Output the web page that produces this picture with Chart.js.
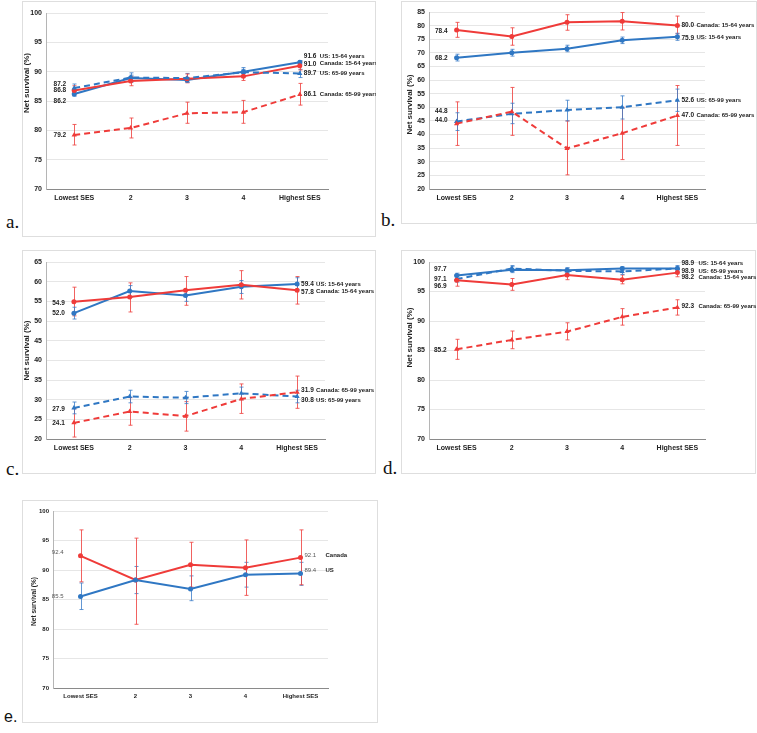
<!DOCTYPE html>
<html>
<head>
<meta charset="utf-8">
<script src="https://cdn.jsdelivr.net/npm/chart.js@4.4.1/dist/chart.umd.min.js"></script>
<style>
body { margin: 0; background: #fff; width: 757px; height: 733px; position: relative; overflow: hidden; }
.box { position: absolute; border: 1px solid #dedede; box-sizing: border-box; }
.tag { position: absolute; font-family: "Liberation Serif", serif; font-size: 19px; color: #111; line-height: 1; }
canvas { position: absolute; }
</style>
</head>
<body>
<div class="tag" style="left:6px;top:212px">a.</div>
<div class="tag" style="left:381px;top:210px">b.</div>
<div class="tag" style="left:6px;top:459px">c.</div>
<div class="tag" style="left:383px;top:458px">d.</div>
<div class="tag" style="left:4px;top:709px;font-family:'Liberation Sans',sans-serif;font-size:16px">e.</div>

<script>
// shared categories
const categories = ['Lowest SES', '2', '3', '4', 'Highest SES'];

// a.
const aCanYoung = [86.8, 88.4, 88.8, 89.2, 91.0];
const aCanYoungLo = [86.0, 87.6, 88.1, 88.5, 90.3];
const aCanYoungHi = [87.6, 89.2, 89.6, 89.9, 91.7];
const aUsYoung = [86.2, 88.9, 88.6, 90.0, 91.6];
const aUsYoungLo = [85.8, 88.4, 88.2, 89.6, 91.3];
const aUsYoungHi = [86.6, 89.4, 89.0, 90.4, 91.9];
const aUsOld = [87.2, 89.0, 88.9, 89.9, 89.7];
const aUsOldLo = [86.6, 88.2, 88.2, 89.1, 89.0];
const aUsOldHi = [87.9, 89.8, 89.7, 90.7, 90.4];
const aCanOld = [79.2, 80.4, 82.9, 83.1, 86.1];
const aCanOldLo = [77.5, 78.7, 81.2, 81.2, 84.3];
const aCanOldHi = [81.0, 82.1, 84.8, 85.1, 88.0];

// b.
const bCanYoung = [78.4, 76.0, 81.2, 81.6, 80.0];
const bCanYoungLo = [75.7, 72.8, 78.3, 78.4, 77.0];
const bCanYoungHi = [81.2, 79.2, 84.0, 84.8, 83.5];
const bUsYoung = [68.2, 70.0, 71.5, 74.6, 75.9];
const bUsYoungLo = [67.0, 68.8, 70.4, 73.4, 74.6];
const bUsYoungHi = [69.5, 71.3, 72.8, 75.8, 77.2];
const bUsOld = [44.8, 47.6, 49.0, 50.0, 52.6];
const bUsOldLo = [41.5, 44.0, 45.0, 45.7, 48.5];
const bUsOldHi = [48.0, 51.5, 52.6, 54.2, 56.7];
const bCanOld = [44.0, 48.4, 34.9, 40.5, 47.0];
const bCanOldLo = [36.0, 39.7, 25.2, 30.8, 36.0];
const bCanOldHi = [52.0, 57.3, 45.0, 50.0, 58.0];

// c.
const cUsYoung = [52.0, 57.6, 56.5, 58.7, 59.4];
const cUsYoungLo = [50.5, 56.0, 55.0, 57.0, 58.0];
const cUsYoungHi = [53.5, 59.0, 58.0, 60.3, 61.0];
const cCanYoung = [54.9, 56.1, 57.8, 59.2, 57.8];
const cCanYoungLo = [51.3, 52.3, 54.0, 55.6, 54.3];
const cCanYoungHi = [58.6, 59.7, 61.3, 62.8, 61.3];
const cUsOld = [27.9, 30.8, 30.5, 31.6, 30.8];
const cUsOldLo = [26.4, 29.2, 29.0, 30.0, 29.2];
const cUsOldHi = [29.4, 32.4, 32.1, 33.2, 32.4];
const cCanOld = [24.1, 27.0, 25.8, 30.2, 31.9];
const cCanOldLo = [20.5, 23.5, 22.0, 26.5, 27.8];
const cCanOldHi = [27.7, 30.5, 29.5, 34.0, 36.0];

// d.
const dUsYoung = [97.7, 98.7, 98.6, 98.9, 98.9];
const dUsYoungLo = [97.3, 98.2, 98.2, 98.6, 98.6];
const dUsYoungHi = [98.1, 99.2, 99.0, 99.2, 99.2];
const dUsOld = [97.1, 98.9, 98.5, 98.4, 98.9];
const dUsOldLo = [96.6, 98.4, 98.0, 97.9, 98.4];
const dUsOldHi = [97.6, 99.4, 99.0, 98.9, 99.4];
const dCanYoung = [96.9, 96.2, 97.8, 97.0, 98.2];
const dCanYoungLo = [95.9, 95.2, 97.0, 96.3, 97.5];
const dCanYoungHi = [97.8, 97.2, 98.6, 97.8, 98.9];
const dCanOld = [85.2, 86.8, 88.2, 90.7, 92.3];
const dCanOldLo = [83.5, 85.3, 86.8, 89.3, 91.0];
const dCanOldHi = [86.9, 88.3, 89.7, 92.1, 93.6];

// e.
const eCan = [92.4, 88.3, 90.9, 90.4, 92.1];
const eCanLo = [88.0, 80.8, 87.1, 85.7, 87.5];
const eCanHi = [96.8, 95.4, 94.7, 95.1, 96.8];
const eUs = [85.5, 88.3, 86.8, 89.2, 89.4];
const eUsLo = [83.3, 86.0, 84.8, 87.1, 87.4];
const eUsHi = [87.8, 90.6, 89.0, 91.3, 91.3];

const RED = '#ef3b39';
const BLUE = '#2f77c3';
const RED_BAR = 'rgba(239,70,68,0.85)';
const BLUE_BAR = 'rgba(60,125,200,0.8)';

function series(data, lo, hi, color, dashed, name, dyL, dyR) {
    return {
        data: data,
        errLo: lo,
        errHi: hi,
        name: name,
        dyL: dyL,
        dyR: dyR,
        borderColor: color,
        backgroundColor: color,
        barColor: color === RED ? RED_BAR : BLUE_BAR,
        borderWidth: 2,
        borderDash: dashed ? [6, 4] : [],
        pointStyle: dashed ? 'triangle' : 'circle',
        pointRadius: dashed ? 3 : 2.5,
        pointBorderWidth: 0,
        tension: 0,
        fill: false
    };
}

const panels = [
    { box: [22, 1, 354, 236], plot: [46, 13, 328, 189], min: 70, max: 100,
      leftDx: 8, nameDx: 20, titleDy: -18, small: false,
      datasets: [
        series(aCanOld, aCanOldLo, aCanOldHi, RED, true, 'Canada: 65-99 years', 0, 0),
        series(aUsOld, aUsOldLo, aUsOldHi, BLUE, true, 'US: 65-99 years', -4, 0),
        series(aCanYoung, aCanYoungLo, aCanYoungHi, RED, false, 'Canada: 15-64 years', 0, -2),
        series(aUsYoung, aUsYoungLo, aUsYoungHi, BLUE, false, 'US: 15-64 years', 7.5, -6)
      ] },
    { box: [401, 1, 356, 223], plot: [429, 12, 705, 189], min: 20, max: 85,
      leftDx: 9, nameDx: 19, titleDy: 4, small: false,
      datasets: [
        series(bCanOld, bCanOldLo, bCanOldHi, RED, true, 'Canada: 65-99 years', -3.5, 0),
        series(bUsOld, bUsOldLo, bUsOldHi, BLUE, true, 'US: 65-99 years', -10.5, 0),
        series(bCanYoung, bCanYoungLo, bCanYoungHi, RED, false, 'Canada: 15-64 years', 1.5, 0),
        series(bUsYoung, bUsYoungLo, bUsYoungHi, BLUE, false, 'US: 15-64 years', 0, 1)
      ] },
    { box: [22, 250, 354, 224], plot: [46, 262, 325, 439], min: 20, max: 65,
      leftDx: 9, nameDx: 19, titleDy: 0, small: false,
      datasets: [
        series(cCanOld, cCanOldLo, cCanOldHi, RED, true, 'Canada: 65-99 years', 0, -1.5),
        series(cUsOld, cUsOldLo, cUsOldHi, BLUE, true, 'US: 65-99 years', 1, 3.5),
        series(cCanYoung, cCanYoungLo, cCanYoungHi, RED, false, 'Canada: 15-64 years', 1, 1.5),
        series(cUsYoung, cUsYoungLo, cUsYoungHi, BLUE, false, 'US: 15-64 years', 0, 0)
      ] },
    { box: [401, 250, 355, 224], plot: [429, 262, 705, 439], min: 70, max: 100,
      leftDx: 10, nameDx: 21, titleDy: -13, small: false,
      datasets: [
        series(dCanOld, dCanOldLo, dCanOldHi, RED, true, 'Canada: 65-99 years', 1, -1.5),
        series(dCanYoung, dCanYoungLo, dCanYoungHi, RED, false, 'Canada: 15-64 years', 6.4, 5),
        series(dUsOld, dUsOldLo, dUsOldHi, BLUE, true, 'US: 65-99 years', 0, 2.5),
        series(dUsYoung, dUsYoungLo, dUsYoungHi, BLUE, false, 'US: 15-64 years', -6.6, -5)
      ] },
    { box: [22, 500, 356, 223], plot: [53, 511, 328, 688], min: 70, max: 100,
      leftDx: 17, nameDx: 25, titleDy: 2, small: true,
      datasets: [
        series(eUs, eUsLo, eUsHi, BLUE, false, 'US', 0, -3),
        series(eCan, eCanLo, eCanHi, RED, false, 'Canada', -3.5, -2)
      ] }
];

// error bars under the lines, value labels and y title on top
const decor = {
    id: 'decor',
    beforeDatasetsDraw(chart) {
        const { ctx, scales: { x, y } } = chart;
        chart.data.datasets.forEach(ds => {
            ctx.save();
            ctx.strokeStyle = ds.barColor;
            ctx.lineWidth = 1;
            ds.data.forEach((v, i) => {
                const px = Math.round(x.getPixelForValue(i)) + 0.5;
                const y1 = y.getPixelForValue(ds.errLo[i]);
                const y2 = y.getPixelForValue(ds.errHi[i]);
                ctx.beginPath();
                ctx.moveTo(px, y1); ctx.lineTo(px, y2);
                ctx.moveTo(px - 2, y1); ctx.lineTo(px + 2, y1);
                ctx.moveTo(px - 2, y2); ctx.lineTo(px + 2, y2);
                ctx.stroke();
            });
            ctx.restore();
        });
    },
    afterDatasetsDraw(chart, args, opts) {
        const { ctx, scales: { x, y }, chartArea } = chart;
        ctx.save();
        ctx.textBaseline = 'middle';
        chart.data.datasets.forEach(ds => {
            const n = ds.data.length - 1;
            const x0 = x.getPixelForValue(0), xn = x.getPixelForValue(n);
            const y0 = y.getPixelForValue(ds.data[0]), yn = y.getPixelForValue(ds.data[n]);
            ctx.fillStyle = opts.small ? '#555' : '#222';
            ctx.font = opts.small ? '6px "Liberation Sans"' : 'bold 6.5px "Liberation Sans"';
            ctx.textAlign = 'right';
            ctx.fillText(ds.data[0].toFixed(1), x0 - opts.leftDx, y0 + ds.dyL);
            ctx.textAlign = 'left';
            ctx.fillText(ds.data[n].toFixed(1), xn + 4, yn + ds.dyR);
            ctx.fillStyle = '#222';
            ctx.font = 'bold 6px "Liberation Sans"';
            ctx.fillText(ds.name, xn + opts.nameDx, yn + ds.dyR);
        });
        // y axis title
        ctx.translate(chartArea.left - 19, (chartArea.top + chartArea.bottom) / 2 + opts.titleDy);
        ctx.rotate(-Math.PI / 2);
        ctx.textAlign = 'center';
        ctx.fillStyle = '#222';
        ctx.font = opts.small ? 'bold 6.5px "Liberation Sans"' : 'bold 8px "Liberation Sans"';
        ctx.fillText('Net survival (%)', 0, 0);
        ctx.restore();
    }
};

Chart.defaults.font.family = '"Liberation Sans", Arial, sans-serif';
Chart.defaults.font.weight = 'bold';
Chart.defaults.color = '#222';

panels.forEach(p => {
    const [bx, by, bw, bh] = p.box;
    const [pl, pt, pr, pb] = p.plot;

    const frame = document.createElement('div');
    frame.className = 'box';
    frame.style.cssText = `left:${bx}px;top:${by}px;width:${bw}px;height:${bh}px`;
    document.body.appendChild(frame);

    const cv = document.createElement('canvas');
    cv.width = bw; cv.height = bh;
    cv.style.cssText = `left:${bx}px;top:${by}px;width:${bw}px;height:${bh}px`;
    document.body.appendChild(cv);

    const tickSize = p.small ? 6 : 7;

    new Chart(cv, {
        type: 'line',
        data: { labels: categories, datasets: p.datasets },
        options: {
            responsive: false,
            animation: false,
            devicePixelRatio: 1,
            layout: { padding: { left: 0, top: pt - by, right: bx + bw - pr, bottom: 0 } },
            plugins: {
                legend: { display: false },
                tooltip: { enabled: false },
                decor: { leftDx: p.leftDx, nameDx: p.nameDx, titleDy: p.titleDy, small: p.small }
            },
            scales: {
                x: {
                    offset: true,
                    grid: { display: true, drawOnChartArea: false, drawTicks: false },
                    border: { display: true, color: '#8a8a8a', width: 1 },
                    ticks: { padding: 5, font: { size: tickSize, weight: 'bold' }, maxRotation: 0, autoSkip: false },
                    afterFit: s => { s.height = by + bh - pb; }
                },
                y: {
                    min: p.min,
                    max: p.max,
                    grid: { color: '#e6e6e6', drawTicks: false },
                    border: { display: true, color: '#b5b5b5', width: 1 },
                    ticks: { stepSize: 5, padding: 4, font: { size: tickSize, weight: 'bold' } },
                    afterFit: s => { s.width = pl - bx; }
                }
            }
        },
        plugins: [decor]
    });
});
</script>
</body>
</html>
